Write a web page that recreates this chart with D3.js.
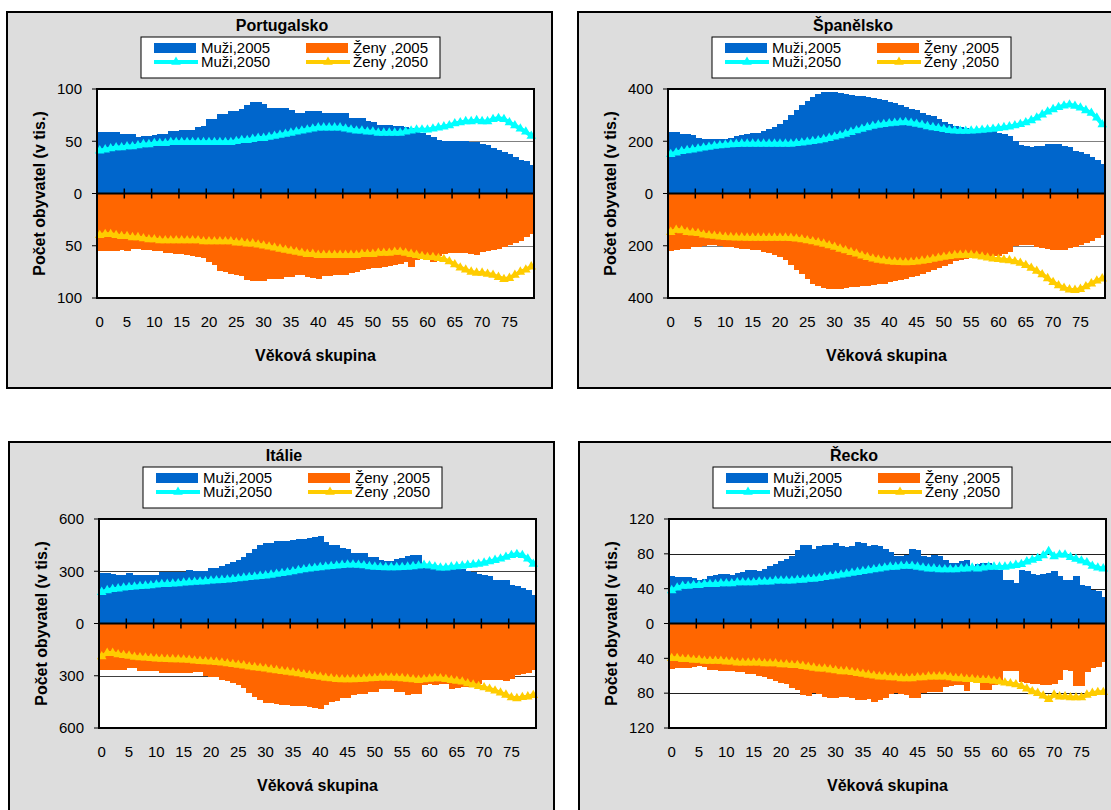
<!DOCTYPE html>
<html><head><meta charset="utf-8">
<script src="https://cdn.jsdelivr.net/npm/d3@7"></script>
<style>body{margin:0;background:#fff;} svg{display:block;font-family:"Liberation Sans",Arial,sans-serif;}</style>
</head><body><svg id="c" width="1111" height="810"></svg>
<script>
const ages = [0,1,2,3,4,5,6,7,8,9,10,11,12,13,14,15,16,17,18,19,20,21,22,23,24,25,26,27,28,29,30,31,32,33,34,35,36,37,38,39,40,41,42,43,44,45,46,47,48,49,50,51,52,53,54,55,56,57,58,59,60,61,62,63,64,65,66,67,68,69,70,71,72,73,74,75,76,77,78,79];
const xTickLabels = [0,5,10,15,20,25,30,35,40,45,50,55,60,65,70,75];
const seriesNames = ["Muži,2005","Ženy ,2005","Muži,2050","Ženy ,2050"];
const xTitle = "Věková skupina";
const yTitle = "Počet obyvatel (v tis.)";

// Portugalsko
const ptTitle = "Portugalsko";
const ptTicks = [-100,-50,0,50,100];
const ptM2005 = [59,59,59,59,57,57,57,54,55,55,56,57,57,60,60,61,61,61,64,65,71,71,76,76,79,79,81,85,88,88,86,82,82,82,82,80,77,77,79,79,79,77,77,77,77,77,72,72,72,69,68,66,66,66,65,65,64,63,60,58,56,54,51,50,50,50,50,50,49,49,47,46,44,42,40,38,35,32,31,27];
const ptF2005 = [55,55,55,55,54,55,53,53,54,54,55,55,57,57,58,58,59,60,61,62,66,68,74,75,77,78,79,83,84,84,84,82,82,82,80,80,78,78,80,81,82,79,79,78,78,78,76,75,73,72,71,71,70,69,68,67,66,70,64,63,64,66,60,58,57,57,57,57,58,59,56,55,54,53,51,49,47,45,42,39];
const ptM2050 = [41,42,43,44,44,45,45,46,47,47,48,48,48,49,49,49,49,49,49,49,49,49,49,49,49,50,51,51,52,53,53,54,55,56,57,58,59,60,61,62,63,63,63,63,63,62,61,60,60,59,59,58,58,58,58,58,59,60,61,61,61,62,63,64,65,67,68,69,69,70,69,69,71,72,71,68,65,62,59,55];
const ptF2050 = [40,39,39,40,41,41,42,42,43,44,44,45,45,45,45,45,45,45,45,46,46,46,46,46,46,47,47,48,48,49,50,51,52,53,54,55,56,57,58,58,59,59,59,59,59,59,59,59,58,58,58,57,57,57,56,56,57,58,59,60,61,61,62,63,65,68,71,73,75,76,76,77,78,80,82,81,78,75,73,70];

// Španělsko
const esTitle = "Španělsko";
const esTicks = [-400,-200,0,200,400];
const esM2005 = [236,234,228,226,225,214,210,208,207,208,210,213,220,223,226,230,232,240,245,255,265,280,300,318,338,355,370,382,390,390,388,384,382,378,375,372,368,365,362,356,350,345,338,332,325,318,310,302,295,285,275,266,260,256,252,248,244,242,240,238,233,228,220,200,185,182,178,182,180,188,190,188,182,178,162,158,150,140,128,114];
const esF2005 = [220,218,212,212,206,204,200,199,199,200,203,206,209,212,213,216,218,224,228,235,242,255,275,292,310,328,345,355,362,365,365,365,362,358,357,355,353,352,348,345,340,336,332,326,320,314,307,300,292,285,276,268,260,255,250,248,246,244,242,240,238,232,225,200,198,197,198,204,210,214,218,218,216,210,204,198,188,180,170,158];
const esM2050 = [150,156,162,165,168,171,175,178,182,184,186,188,189,190,190,190,190,190,190,190,190,190,190,192,194,197,200,203,207,212,217,222,228,235,241,247,253,258,262,265,268,270,272,273,270,266,262,257,253,250,246,242,240,239,239,240,241,243,245,247,250,253,256,260,265,272,280,290,302,313,322,330,336,340,335,328,318,308,290,264];
const esF2050 = [148,140,142,148,150,152,158,161,163,165,167,168,169,169,170,170,170,170,170,170,170,170,171,173,176,180,184,188,193,199,205,212,218,225,231,238,244,250,254,257,260,262,263,264,263,261,258,255,251,247,243,240,237,236,235,236,238,242,246,250,252,254,256,260,266,275,285,297,310,325,340,352,362,368,370,366,356,345,334,326];

// Itálie
const itTitle = "Itálie";
const itTicks = [-600,-300,0,300,600];
const itM2005 = [290,288,282,281,281,288,280,279,279,279,280,293,294,294,295,296,308,300,300,302,318,320,332,340,352,362,381,406,430,449,462,464,472,472,474,482,484,485,492,495,501,470,452,448,432,430,405,404,402,382,380,362,358,360,372,375,390,392,391,330,328,325,320,318,315,312,312,304,295,285,278,275,252,250,250,220,215,205,190,165];
const itF2005 = [267,267,266,266,266,257,258,272,273,273,274,284,286,286,287,287,286,281,281,300,306,308,322,328,344,355,368,400,420,440,455,458,465,466,468,472,474,475,480,485,493,466,450,445,430,428,408,404,403,394,392,375,374,376,392,394,412,405,402,352,350,352,345,350,374,370,366,364,362,345,325,325,325,326,332,318,296,290,286,267];
const itM2050 = [180,190,197,200,205,208,211,214,216,218,222,225,226,228,230,234,236,238,240,242,245,247,249,251,254,258,262,265,268,272,275,279,284,288,293,299,305,310,315,319,322,326,329,332,335,337,337,336,333,328,325,323,322,322,322,323,325,328,332,335,332,326,320,320,325,328,331,335,338,342,348,356,364,372,382,392,398,392,372,342];
const itF2050 = [190,170,170,178,182,186,192,195,197,200,202,204,205,206,207,208,210,214,216,218,220,222,225,230,234,238,242,248,252,256,260,265,269,274,278,282,287,293,298,303,307,313,316,320,322,322,321,320,318,316,314,312,312,312,313,315,318,322,325,322,318,315,316,320,326,330,335,345,352,360,368,376,386,398,410,425,430,424,420,412];

// Řecko
const grTitle = "Řecko";
const grTicks = [-120,-80,-40,0,40,80,120];
const grM2005 = [55,53,53,53,52,50,51,54,56,57,57,56,58,59,61,61,60,63,66,68,72,74,78,84,90,90,86,89,90,90,92,89,88,89,94,92,89,90,89,85,82,78,78,79,86,84,78,76,79,78,73,70,70,72,73,66,68,70,70,64,62,50,50,46,62,60,57,56,57,58,60,55,50,50,54,44,43,38,37,31];
const grF2005 = [52,51,51,51,50,49,50,53,53,54,55,55,56,56,58,58,60,62,64,66,68,70,74,76,82,83,80,81,84,85,86,84,84,85,88,88,87,90,88,86,81,80,81,82,86,86,80,79,79,79,73,72,71,71,77,67,67,76,76,71,70,55,55,54,67,68,69,70,71,71,70,65,53,54,72,72,56,51,50,44];
const grM2050 = [38,41,43,43,44,44,45,45,45,46,46,46,47,47,47,47,48,48,48,49,49,49,49,50,50,51,51,52,53,54,55,56,57,58,59,60,61,62,63,64,65,65,66,66,66,65,64,63,63,62,62,62,62,63,63,64,63,64,65,65,65,65,66,67,68,71,73,75,78,83,77,79,79,76,74,72,70,66,64,63];
const grF2050 = [40,40,41,41,42,42,43,43,43,43,44,44,45,45,45,45,45,46,46,46,47,47,48,48,49,50,51,52,52,53,54,55,55,56,57,58,59,60,61,61,62,62,63,63,63,62,62,61,61,61,61,62,63,63,64,64,65,65,65,66,67,68,69,70,72,75,78,80,83,87,82,84,84,85,85,85,82,80,79,79];

const colM05 = "#0066CC", colF05 = "#FF6600", colM50 = "#00FFFF", colF50 = "#FFCC00";

const panels = [
  {title: ptTitle, ticks: ptTicks, m05: ptM2005, f05: ptF2005, m50: ptM2050, f50: ptF2050, px: 7, py: 12, grid: "#808080"},
  {title: esTitle, ticks: esTicks, m05: esM2005, f05: esF2005, m50: esM2050, f50: esF2050, px: 578, py: 12, grid: "#808080"},
  {title: itTitle, ticks: itTicks, m05: itM2005, f05: itF2005, m50: itM2050, f50: itF2050, px: 9, py: 442, grid: "#404040"},
  {title: grTitle, ticks: grTicks, m05: grM2005, f05: grF2005, m50: grM2050, f50: grF2050, px: 579, py: 442, grid: "#202020"}
];

const svg = d3.select("#c");
const PW = 545, PH = 376;
const L = 90, T = 77, W = 437, H = 209;

panels.forEach(p => {
  const g = svg.append("g").attr("transform", `translate(${p.px},${p.py})`);
  g.append("rect").attr("x", 0).attr("y", 0).attr("width", PW).attr("height", PH)
    .attr("fill", "#DDDDDD").attr("stroke", "#000").attr("stroke-width", 2);

  const x = d3.scaleBand().domain(ages).range([L, L + W]).padding(0);
  const ext = d3.max(p.ticks);
  const y = d3.scaleLinear().domain([-ext, ext]).range([T + H, T]);

  g.append("rect").attr("x", L).attr("y", T).attr("width", W).attr("height", H).attr("fill", "#fff");

  // gridlines
  g.selectAll(".grid").data(p.ticks.filter(t => t !== 0 && Math.abs(t) !== ext)).enter()
    .append("line").attr("x1", L).attr("x2", L + W)
    .attr("y1", d => Math.round(y(d)) + 0.5).attr("y2", d => Math.round(y(d)) + 0.5)
    .attr("stroke", p.grid).attr("stroke-width", 1);

  const bw = x.bandwidth();
  // male bars 2005
  g.selectAll(".m05").data(ages).enter().append("rect")
    .attr("x", d => x(d)).attr("width", bw + 1)
    .attr("y", d => y(p.m05[d])).attr("height", d => y(0) - y(p.m05[d]))
    .attr("fill", colM05).attr("shape-rendering", "crispEdges");
  // female bars 2005 (below zero)
  g.selectAll(".f05").data(ages).enter().append("rect")
    .attr("x", d => x(d)).attr("width", bw + 1)
    .attr("y", y(0)).attr("height", d => y(-p.f05[d]) - y(0))
    .attr("fill", colF05).attr("shape-rendering", "crispEdges");

  // zero (category) axis with crossing ticks
  g.append("line").attr("x1", L).attr("x2", L + W).attr("y1", y(0)).attr("y2", y(0))
    .attr("stroke", "#000").attr("stroke-width", 2);
  const bounds = xTickLabels.map(a => a + 5).filter(a => a <= 80);
  g.selectAll(".xt").data(bounds).enter().append("line")
    .attr("x1", d => d < 80 ? x(d) : L + W).attr("x2", d => d < 80 ? x(d) : L + W)
    .attr("y1", y(0) - 5).attr("y2", y(0) + 5)
    .attr("stroke", "#000").attr("stroke-width", 1.5);

  // 2050 lines with triangle markers
  const cx = d => x(d) + bw / 2;
  const lineM = d3.line().x(cx).y(d => y(p.m50[d]));
  const lineF = d3.line().x(cx).y(d => y(-p.f50[d]));
  const tri = d3.symbol().type(d3.symbolTriangle).size(40);
  [[lineM, colM50, d => y(p.m50[d])], [lineF, colF50, d => y(-p.f50[d])]].forEach(([ln, col, yy]) => {
    g.append("path").attr("d", ln(ages)).attr("fill", "none").attr("stroke", col)
      .attr("stroke-width", 4).attr("stroke-linejoin", "round");
    g.selectAll(null).data(ages).enter().append("path").attr("d", tri)
      .attr("transform", d => `translate(${cx(d)},${yy(d)})`).attr("fill", col);
  });

  // plot border
  g.append("rect").attr("x", L).attr("y", T).attr("width", W).attr("height", H)
    .attr("fill", "none").attr("stroke", "#000").attr("stroke-width", 2);

  // y axis ticks & labels
  g.selectAll(".yt").data(p.ticks).enter().append("line")
    .attr("x1", L - 5).attr("x2", L).attr("y1", d => y(d)).attr("y2", d => y(d))
    .attr("stroke", "#000").attr("stroke-width", 1);
  g.selectAll(".yl").data(p.ticks).enter().append("text")
    .attr("x", L - 15).attr("y", d => y(d)).attr("dy", "0.35em")
    .attr("text-anchor", "end").attr("font-size", 15).attr("fill", "#000")
    .text(d => Math.abs(d));

  // x labels
  g.selectAll(".xl").data(xTickLabels).enter().append("text")
    .attr("x", d => x(d) + bw / 2).attr("y", T + H + 24).attr("dy", "0.35em")
    .attr("text-anchor", "middle").attr("font-size", 15).attr("fill", "#000")
    .text(d => d);

  // titles
  g.append("text").attr("x", 275).attr("y", 13).attr("dy", "0.35em").attr("text-anchor", "middle")
    .attr("font-size", 16).attr("font-weight", "bold").text(p.title);
  g.append("text").attr("x", L + W / 2).attr("y", T + H + 57).attr("dy", "0.35em").attr("text-anchor", "middle")
    .attr("font-size", 16).attr("font-weight", "bold").text(xTitle);
  g.append("text").attr("transform", `translate(32,${y(0)}) rotate(-90)`).attr("dy", "0.35em")
    .attr("text-anchor", "middle").attr("font-size", 16).attr("font-weight", "bold").text(yTitle);

  // legend
  const lg = g.append("g").attr("transform", "translate(134,25)");
  lg.append("rect").attr("x", 0).attr("y", 0).attr("width", 299).attr("height", 41)
    .attr("fill", "#fff").attr("stroke", "#000").attr("stroke-width", 1);
  const items = [
    {name: seriesNames[0], col: colM05, kind: "bar", x: 13, y: 11},
    {name: seriesNames[1], col: colF05, kind: "bar", x: 165, y: 11},
    {name: seriesNames[2], col: colM50, kind: "line", x: 13, y: 25},
    {name: seriesNames[3], col: colF50, kind: "line", x: 165, y: 25}
  ];
  items.forEach(it => {
    if (it.kind === "bar") {
      lg.append("rect").attr("x", it.x).attr("y", it.y - 5).attr("width", 42).attr("height", 10).attr("fill", it.col);
    } else {
      lg.append("line").attr("x1", it.x).attr("x2", it.x + 44).attr("y1", it.y).attr("y2", it.y)
        .attr("stroke", it.col).attr("stroke-width", 4);
      lg.append("path").attr("d", tri).attr("transform", `translate(${it.x + 22},${it.y})`).attr("fill", it.col);
    }
    lg.append("text").attr("x", it.x + 47).attr("y", it.y).attr("dy", "0.35em")
      .attr("font-size", 15).attr("fill", "#000").text(it.name);
  });
});
</script></body></html>
